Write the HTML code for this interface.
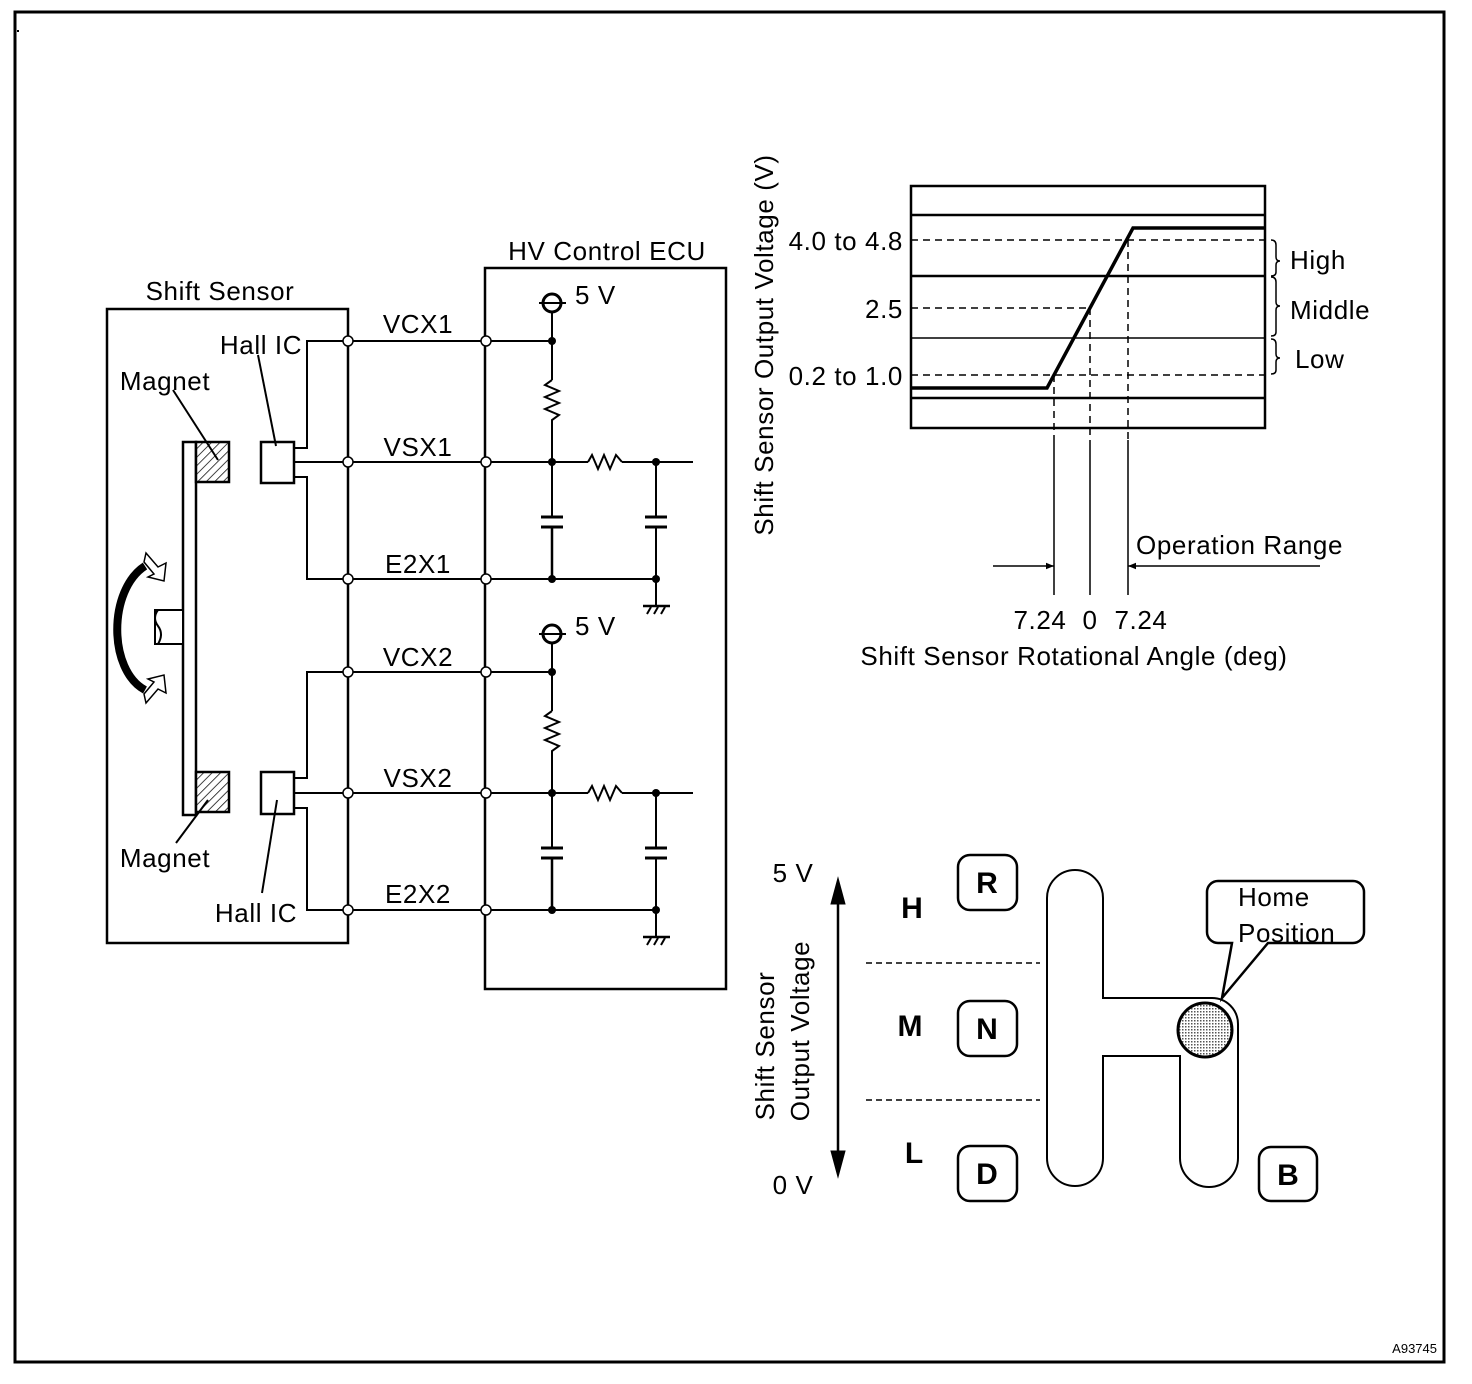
<!DOCTYPE html>
<html><head><meta charset="utf-8"><style>
html,body{margin:0;padding:0;background:#fff}
svg{display:block}
text{font-family:"Liberation Sans",Arial,sans-serif;fill:#000}
.t{font-size:26px;letter-spacing:0.6px}
</style></head><body>
<svg width="1472" height="1384" viewBox="0 0 1472 1384" xmlns="http://www.w3.org/2000/svg">
<defs>
<pattern id="hatch" width="6" height="6" patternUnits="userSpaceOnUse" patternTransform="rotate(45)">
<rect width="6" height="6" fill="#fff"/><line x1="0" y1="0" x2="0" y2="6" stroke="#000" stroke-width="1.5"/>
</pattern>
<pattern id="dots" width="3" height="3" patternUnits="userSpaceOnUse">
<rect width="3" height="3" fill="#fff"/><rect width="1.5" height="1.5" fill="#555"/>
</pattern>
<marker id="ah" viewBox="0 0 10 10" refX="10" refY="5" markerWidth="10" markerHeight="8" orient="auto" markerUnits="userSpaceOnUse"><path d="M0,1 L10,5 L0,9z" fill="#000"/></marker>
</defs>
<rect x="15" y="12" width="1429" height="1350" fill="none" stroke="#000" stroke-width="3"/>
<rect x="17" y="30" width="2" height="2" fill="#000"/>

<text class="t" x="220" y="300" text-anchor="middle">Shift Sensor</text>
<rect x="107" y="309" width="241" height="634" fill="none" stroke="#000" stroke-width="2.5"/>
<text class="t" x="607" y="260" text-anchor="middle">HV Control ECU</text>
<rect x="485" y="268" width="241" height="721" fill="none" stroke="#000" stroke-width="2.5"/>

<rect x="183" y="442" width="13" height="373" fill="#fff" stroke="#000" stroke-width="2.5"/>
<rect x="196" y="442" width="33" height="40" fill="url(#hatch)" stroke="#000" stroke-width="2.5"/>
<rect x="196" y="772" width="33" height="40" fill="url(#hatch)" stroke="#000" stroke-width="2.5"/>
<rect x="155" y="610" width="28" height="34" fill="#fff" stroke="#000" stroke-width="2"/>
<path d="M158,610 q-6,8 0,16 q6,8 0,18" fill="#fff" stroke="#000" stroke-width="2"/>
<path d="M145,566 C108,590 108,670 145,690" fill="none" stroke="#000" stroke-width="8"/>
<path d="M146,553 l12,14 l8,-4 l-2,18 l-16,-4 l6,-3 l-10,-12z" fill="#fff" stroke="#000" stroke-width="1.5"/>
<path d="M146,703 l12,-14 l8,4 l-2,-18 l-16,4 l6,3 l-10,12z" fill="#fff" stroke="#000" stroke-width="1.5"/>
<rect x="261" y="442" width="33" height="41" fill="#fff" stroke="#000" stroke-width="2.5"/>
<rect x="261" y="772" width="33" height="42" fill="#fff" stroke="#000" stroke-width="2.5"/>
<g stroke="#000" stroke-width="2" fill="none">
<polyline points="294,448 307,448 307,341 348,341"/>
<polyline points="294,462 348,462"/>
<polyline points="294,477 307,477 307,579 348,579"/>
<polyline points="294,778 307,778 307,672 348,672"/>
<polyline points="294,793 348,793"/>
<polyline points="294,808 307,808 307,910 348,910"/>
<line x1="173" y1="390" x2="218" y2="460"/>
<line x1="258" y1="355" x2="276" y2="446"/>
<line x1="176" y1="843" x2="208" y2="800"/>
<line x1="262" y1="893" x2="277" y2="800"/>
</g>
<text class="t" x="165" y="390" text-anchor="middle">Magnet</text>
<text class="t" x="165" y="867" text-anchor="middle">Magnet</text>
<text class="t" x="261" y="354" text-anchor="middle">Hall IC</text>
<text class="t" x="256" y="922" text-anchor="middle">Hall IC</text>

<g id="c1">
<g stroke="#000" stroke-width="2" fill="none">
<line x1="348" y1="341" x2="552" y2="341"/>
<line x1="348" y1="462" x2="588" y2="462"/>
<line x1="622" y1="462" x2="693" y2="462"/>
<line x1="348" y1="579" x2="656" y2="579"/>
<line x1="552" y1="311" x2="552" y2="380"/>
<polyline points="552,380 545,385 559,391 545,397 559,403 545,409 559,415 552,420 552,517"/>
<polyline points="588,462 592,455 598,469 604,455 610,469 616,455 622,462"/>
<line x1="552" y1="527" x2="552" y2="579" stroke-width="2.5"/>
<line x1="656" y1="462" x2="656" y2="517"/>
<line x1="656" y1="527" x2="656" y2="606"/>
<line x1="541" y1="517" x2="563" y2="517" stroke-width="3"/>
<line x1="541" y1="527" x2="563" y2="527" stroke-width="3"/>
<line x1="645" y1="517" x2="667" y2="517" stroke-width="3"/>
<line x1="645" y1="527" x2="667" y2="527" stroke-width="3"/>
<line x1="643" y1="606" x2="670" y2="606" stroke-width="2.5"/>
<line x1="647" y1="614" x2="651" y2="607"/><line x1="654" y1="614" x2="658" y2="607"/><line x1="661" y1="614" x2="665" y2="607"/>
<circle cx="552" cy="303" r="9" stroke-width="3"/>
<line x1="539" y1="303" x2="566" y2="303"/>
</g>
<text class="t" x="575" y="304">5 V</text>
<g fill="#000"><circle cx="552" cy="341" r="4"/><circle cx="552" cy="462" r="4"/><circle cx="552" cy="579" r="4"/><circle cx="656" cy="462" r="4"/><circle cx="656" cy="579" r="4"/></g>
</g>
<use href="#c1" transform="translate(0,331)"/>

<g stroke="#000" stroke-width="1.5" fill="#fff">
<circle cx="348" cy="341" r="5"/><circle cx="348" cy="462" r="5"/><circle cx="348" cy="579" r="5"/>
<circle cx="348" cy="672" r="5"/><circle cx="348" cy="793" r="5"/><circle cx="348" cy="910" r="5"/>
<circle cx="486" cy="341" r="5"/><circle cx="486" cy="462" r="5"/><circle cx="486" cy="579" r="5"/>
<circle cx="486" cy="672" r="5"/><circle cx="486" cy="793" r="5"/><circle cx="486" cy="910" r="5"/>
</g>
<g class="t" text-anchor="middle">
<text class="t" x="418" y="333">VCX1</text><text class="t" x="418" y="456">VSX1</text><text class="t" x="418" y="573">E2X1</text>
<text class="t" x="418" y="666">VCX2</text><text class="t" x="418" y="787">VSX2</text><text class="t" x="418" y="903">E2X2</text>
</g>

<g stroke="#000" fill="none">
<rect x="911" y="186" width="354" height="242" stroke-width="2.5"/>
<line x1="911" y1="215" x2="1265" y2="215" stroke-width="2.5"/>
<line x1="911" y1="276" x2="1265" y2="276" stroke-width="2.5"/>
<line x1="911" y1="338" x2="1265" y2="338" stroke-width="1.5"/>
<line x1="911" y1="398" x2="1265" y2="398" stroke-width="2.5"/>
<polyline points="911,388 1047,388 1133,228 1265,228" stroke-width="3.5"/>
<g stroke-dasharray="7,5" stroke-width="1.5">
<line x1="911" y1="240" x2="1270" y2="240"/>
<line x1="911" y1="308" x2="1090" y2="308"/>
<line x1="911" y1="375" x2="1270" y2="375"/>
<line x1="1128" y1="240" x2="1128" y2="440"/>
<line x1="1090" y1="308" x2="1090" y2="440"/>
<line x1="1054" y1="375" x2="1054" y2="440"/>
</g>
<g stroke-width="1.5">
<line x1="1128" y1="440" x2="1128" y2="595"/>
<line x1="1090" y1="440" x2="1090" y2="595"/>
<line x1="1054" y1="440" x2="1054" y2="595"/>
<line x1="993" y1="566" x2="1054" y2="566" marker-end="url(#ah)"/>
<line x1="1320" y1="566" x2="1128" y2="566" marker-end="url(#ah)"/>
<path d="M1271,240 q5,0 5,5 v12 q0,4 4,4 q-4,0 -4,4 v7 q0,4 -5,4"/>
<path d="M1271,277 q5,0 5,5 v20 q0,4 4,4 q-4,0 -4,4 v22 q0,4 -5,4"/>
<path d="M1271,339 q5,0 5,5 v10 q0,4 4,4 q-4,0 -4,4 v8 q0,4 -5,4"/>
</g>
</g>
<g>
<text class="t" x="903" y="250" text-anchor="end">4.0 to 4.8</text>
<text class="t" x="903" y="318" text-anchor="end">2.5</text>
<text class="t" x="903" y="385" text-anchor="end">0.2 to 1.0</text>
<text class="t" x="1290" y="269">High</text>
<text class="t" x="1290" y="319">Middle</text>
<text class="t" x="1295" y="368">Low</text>
<text class="t" x="1136" y="554">Operation Range</text>
<text class="t" x="1040" y="629" text-anchor="middle">7.24</text>
<text class="t" x="1090" y="629" text-anchor="middle">0</text>
<text class="t" x="1141" y="629" text-anchor="middle">7.24</text>
<text class="t" x="1074" y="665" text-anchor="middle">Shift Sensor Rotational Angle (deg)</text>
<text class="t" transform="translate(773,345) rotate(-90)" text-anchor="middle">Shift Sensor Output Voltage (V)</text>
</g>

<g stroke="#000" fill="none">
<line x1="838" y1="900" x2="838" y2="1155" stroke-width="2.5"/>
<path d="M838,878 l-7,26 h14z M838,1177 l-7,-26 h14z" fill="#000"/>
<g stroke-dasharray="6,4" stroke-width="1.5">
<line x1="866" y1="963" x2="1040" y2="963"/><line x1="866" y1="1100" x2="1040" y2="1100"/>
</g>
<path d="M1047,898 a28,28 0 0 1 56,0 V998 H1212 a26,26 0 0 1 26,26 V1158 a29,29 0 0 1 -58,0 V1056 H1103 V1158 a28,28 0 0 1 -56,0 Z" stroke-width="2"/>
<circle cx="1205" cy="1030" r="27" fill="url(#dots)" stroke-width="3"/>
<path d="M1232,943 H1218 a11,11 0 0 1 -11,-11 V892 a11,11 0 0 1 11,-11 H1353 a11,11 0 0 1 11,11 V932 a11,11 0 0 1 -11,11 H1268 L1222,998 Z" fill="#fff" stroke-width="2.5"/>
<g stroke-width="2.5">
<rect x="958" y="855" width="59" height="55" rx="12"/>
<rect x="958" y="1001" width="59" height="55" rx="12"/>
<rect x="958" y="1146" width="59" height="55" rx="12"/>
<rect x="1259" y="1147" width="58" height="54" rx="12"/>
</g>
</g>
<g>
<text class="t" x="1238" y="906">Home</text>
<text class="t" x="1238" y="942">Position</text>
<text class="t" x="793" y="882" text-anchor="middle">5 V</text>
<text class="t" x="793" y="1194" text-anchor="middle">0 V</text>
<text class="t" transform="translate(774,1046) rotate(-90)" text-anchor="middle">Shift Sensor</text>
<text class="t" transform="translate(809,1031) rotate(-90)" text-anchor="middle">Output Voltage</text>
</g>
<g font-size="30" font-weight="bold" text-anchor="middle">
<text x="912" y="918">H</text><text x="910" y="1036">M</text><text x="914" y="1163">L</text>
<text x="987" y="893">R</text><text x="987" y="1039">N</text><text x="987" y="1184">D</text><text x="1288" y="1185">B</text>
</g>
<text x="1437" y="1353" font-size="13" text-anchor="end">A93745</text>
</svg>
</body></html>
